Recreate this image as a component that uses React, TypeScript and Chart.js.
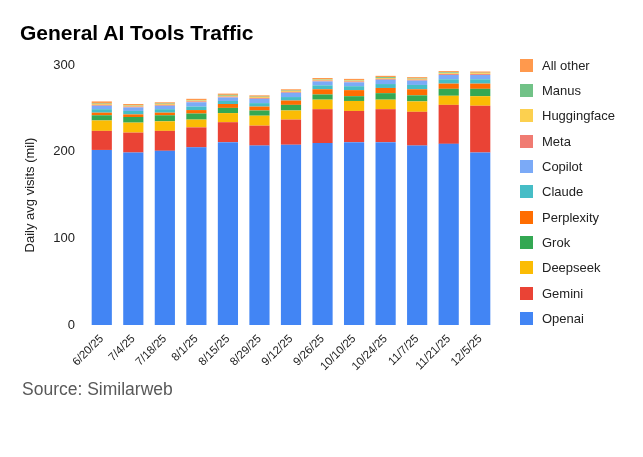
import { useEffect, useRef } from "react";
import { Chart, registerables } from "chart.js";

Chart.register(...registerables);

const categories = ["6/20/25", "7/4/25", "7/18/25", "8/1/25", "8/15/25", "8/29/25", "9/12/25", "9/26/25", "10/10/25", "10/24/25", "11/7/25", "11/21/25", "12/5/25"];

const openai = [202, 199, 201, 205, 211, 207, 208, 210, 211, 211, 207, 209, 199];
const gemini = [22, 23, 23, 23, 23, 23, 29, 39, 36, 38, 39, 45, 54];
const deepseek = [12, 11.5, 11, 9, 10.5, 11.5, 10.5, 11, 11.5, 11, 12, 10.5, 11];
const grok = [6, 6.5, 7, 7, 6, 6, 6.5, 6, 5.5, 7.5, 7, 8, 8.5];
const perplexity = [3, 3, 3, 4, 4.5, 4.5, 5, 6, 7, 6, 7, 6, 6];
const claude = [4, 4, 4, 4, 3.5, 4, 4, 4.5, 4.5, 4.5, 5, 5, 5];
const copilot = [4, 4, 4, 5, 4, 5, 5, 4.5, 4.5, 5, 5, 5, 5];
const meta = [1, 1, 1, 1, 1, 1, 1, 1, 1, 1, 1, 1, 1];
const huggingface = [1, 1, 1, 1, 1, 1, 1, 1, 1, 1, 1, 1, 1];
const manus = [0.5, 0.5, 0.5, 0.5, 1, 0.5, 0.5, 0.5, 0.5, 1, 0.5, 1, 0.5];
const allOther = [2.5, 1.5, 1.5, 1.5, 1.5, 1.5, 1.5, 1.5, 1.5, 1.5, 1.5, 1.5, 1.5];

const seriesNames = ["Openai", "Gemini", "Deepseek", "Grok", "Perplexity", "Claude", "Copilot", "Meta", "Huggingface", "Manus", "All other"];
const seriesValues = [openai, gemini, deepseek, grok, perplexity, claude, copilot, meta, huggingface, manus, allOther];
const seriesColors = ["#4285f4", "#ea4335", "#fbbc04", "#34a853", "#ff6d01", "#46bdc6", "#7baaf7", "#f07b72", "#fcd04f", "#71c287", "#ff994d"];

const yTicks = [0, 100, 200, 300];

const FONT = "'Liberation Sans', Arial, sans-serif";

export default function App() {
  const ref = useRef<HTMLCanvasElement | null>(null);

  useEffect(() => {
    if (!ref.current) return;
    const chart = new Chart(ref.current, {
      type: "bar",
      data: {
        labels: categories,
        datasets: seriesNames.map((name, i) => ({
          label: name,
          data: seriesValues[i],
          backgroundColor: seriesColors[i],
          borderWidth: 0,
          barPercentage: 0.64,
          categoryPercentage: 1,
        })),
      },
      options: {
        animation: false,
        responsive: false,
        maintainAspectRatio: false,
        layout: { padding: { left: 0, right: 147, top: 65, bottom: 77 } },
        plugins: {
          legend: { display: false },
          title: { display: false },
          tooltip: { enabled: false },
        },
        scales: {
          x: {
            stacked: true,
            grid: { display: false, drawTicks: false },
            border: { display: false },
            ticks: {
              color: "#222",
              font: { family: FONT, size: 11.5 },
              maxRotation: 45,
              minRotation: 45,
              padding: 7,
              autoSkip: false,
            },
            afterFit: (s: any) => {
              s.height = 55;
            },
          },
          y: {
            stacked: true,
            min: 0,
            max: 300,
            afterBuildTicks: (s: any) => {
              s.ticks = yTicks.map((v) => ({ value: v }));
            },
            grid: { display: false, drawTicks: false },
            border: { display: false },
            ticks: {
              color: "#222",
              font: { family: FONT, size: 13 },
              padding: 11,
            },
            title: {
              display: true,
              text: "Daily avg visits (mil)",
              color: "#222",
              font: { family: FONT, size: 13 },
              padding: { top: 23, bottom: 0 },
            },
            afterFit: (s: any) => {
              s.width = 86;
            },
          },
        },
      },
    });
    return () => chart.destroy();
  }, []);

  const legendItems = seriesNames.map((n, i) => ({ name: n, color: seriesColors[i] })).reverse();

  return (
    <div style={{ position: "absolute", left: 0, top: 0, width: 643, height: 457, background: "#fff", fontFamily: FONT }}>
      <canvas ref={ref} width={643} height={457} style={{ position: "absolute", left: 0, top: 0, width: 643, height: 457 }} />
      <div style={{ position: "absolute", left: 20, top: 22.3, fontSize: 21, lineHeight: 1, fontWeight: "bold", color: "#000", whiteSpace: "nowrap" }}>
        General AI Tools Traffic
      </div>
      {legendItems.map((it, i) => {
        const cy = 65.3 + i * 25.33;
        return (
          <div key={it.name}>
            <div style={{ position: "absolute", left: 520, top: cy - 6.5, width: 13, height: 13, background: it.color }} />
            <div style={{ position: "absolute", left: 542, top: cy - 6.5, fontSize: 13, lineHeight: "13px", color: "#222", whiteSpace: "nowrap" }}>
              {it.name}
            </div>
          </div>
        );
      })}
      <div style={{ position: "absolute", left: 22, top: 381, fontSize: 17.5, lineHeight: 1, color: "#595959", whiteSpace: "nowrap" }}>
        Source: Similarweb
      </div>
    </div>
  );
}
